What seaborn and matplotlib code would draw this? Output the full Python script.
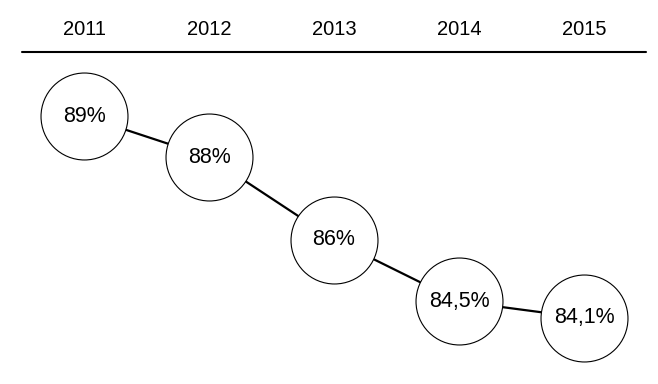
import matplotlib
matplotlib.use("Agg")
import matplotlib.pyplot as plt
import seaborn as sns
import pandas as pd

years = ["2011", "2012", "2013", "2014", "2015"]
values = [89.0, 88.0, 86.0, 84.5, 84.1]
labels = ["89%", "88%", "86%", "84,5%", "84,1%"]

sns.set_theme(style="white")
plt.rcParams["font.family"] = ["Liberation Sans", "DejaVu Sans"]

df = pd.DataFrame({"x": range(len(years)), "year": years, "value": values, "label": labels})

fig = plt.figure(figsize=(6.58, 3.84), dpi=100)
ax = fig.add_axes([0, 0, 1, 1])

sns.lineplot(data=df, x="x", y="value", color="black", linewidth=1.6, ax=ax, zorder=1)
sns.scatterplot(data=df, x="x", y="value", s=3920, color="white", edgecolor="black",
                linewidth=0.8, ax=ax, zorder=2, legend=False)

for _, r in df.iterrows():
    ax.text(r["x"], r["value"], r["label"], ha="center", va="center", fontsize=15.5,
            color="black", zorder=3)
    ax.text(r["x"], 0.922, r["year"], ha="center", va="center", fontsize=14.5,
            color="black", transform=ax.get_xaxis_transform())

ax.plot([0.033, 0.982], [0.8646, 0.8646], transform=ax.transAxes, color="black",
        linewidth=1.5, clip_on=False)

ax.set_xlim(-0.672, 4.592)
ax.set_ylim(82.495, 91.816)
ax.axis("off")

fig.savefig("out.png", dpi=100)
